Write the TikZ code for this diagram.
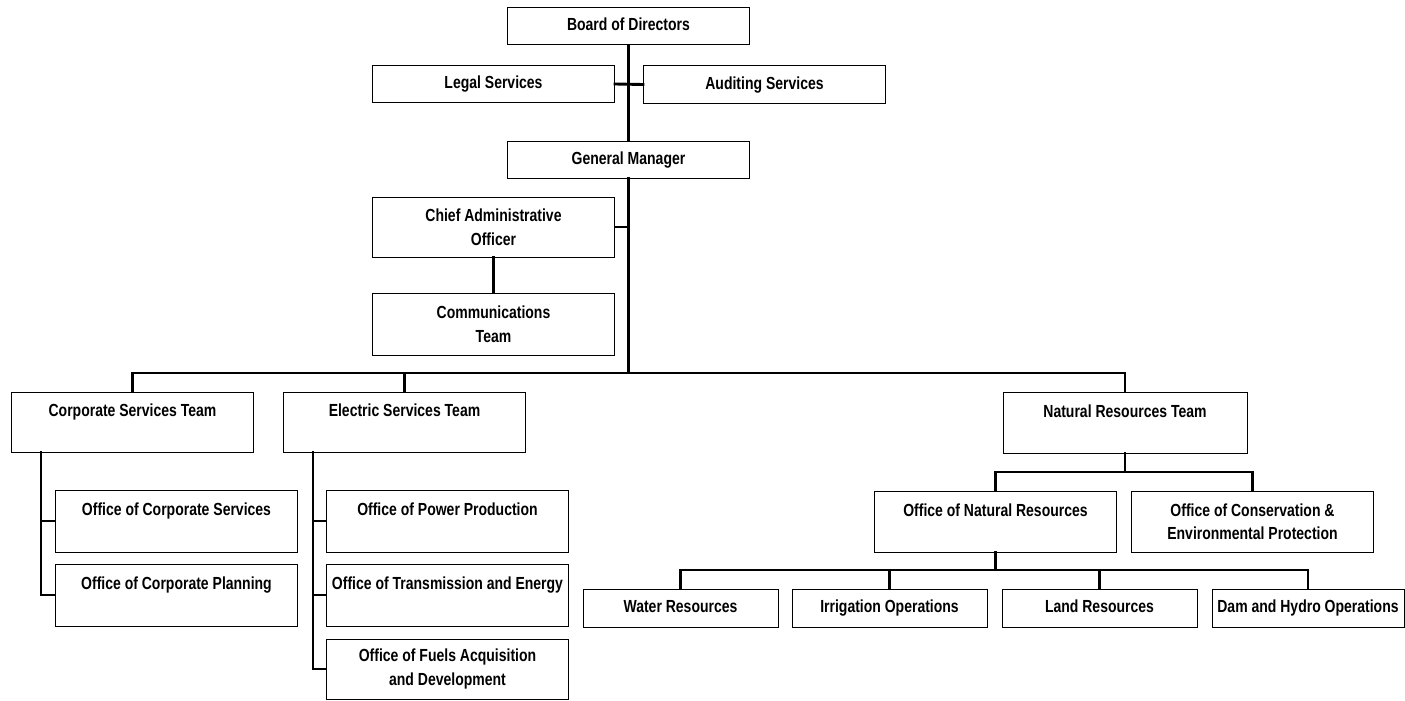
\documentclass[tikz,border=0pt]{standalone}
\usepackage{fontspec}
\newfontfamily\lblfont[FakeStretch=0.8]{Liberation Sans}
\tikzset{
  orgbox/.style={draw=black, line width=1pt, inner sep=0pt, align=center,
    font=\lblfont\bfseries\fontsize{17.5}{23.5}\selectfont, fill=white},
  wide/.style={orgbox, minimum width=242pt},
  short/.style={wide, minimum height=37pt, text height=12.5pt, text depth=3.5pt},
  tall/.style={wide, minimum height=61pt},
  small/.style={orgbox, minimum width=195pt, minimum height=38pt, text height=12.5pt, text depth=3.5pt},
  link/.style={draw=black, line width=2.9pt, line cap=rect}
}
\begin{document}
\begin{tikzpicture}[x=1pt, y=-1pt]
\useasboundingbox[fill=white] (0,0) rectangle (1405,701);

% top
\node[short] (board) at (628.5,26.5) {Board of Directors};
\node[short] (legal) at (493.5,84) {Legal Services};
\node[short] (audit) at (764.5,84.5) {Auditing Services};
\node[short] (gm) at (628.5,159.5) {General Manager};
\node[tall, minimum height=60pt] (cao) at (493.5,227) {Chief Administrative\\Officer};
\node[tall, minimum height=62pt] (comm) at (493.5,324) {Communications\\Team};

% teams
\node[tall, minimum height=60pt] (cst) at (132.5,422) {Corporate Services Team\\\mbox{}};
\node[tall, minimum height=60pt] (est) at (404.5,422) {Electric Services Team\\\mbox{}};
\node[tall, minimum height=61pt, minimum width=244pt] (nrt) at (1125,422.5) {Natural Resources Team\\\mbox{}};

% corporate offices
\node[tall, minimum height=62pt] (ocs) at (176.5,521) {Office of Corporate Services\\\mbox{}};
\node[tall, minimum height=62pt] (ocp) at (176.5,595) {Office of Corporate Planning\\\mbox{}};

% electric offices
\node[tall, minimum height=62pt] (opp) at (447.5,521) {Office of Power Production\\\mbox{}};
\node[tall, minimum height=62pt] (ote) at (447.5,595) {Office of Transmission and Energy\\\mbox{}};
\node[tall, minimum height=60pt] (ofa) at (447.5,669) {Office of Fuels Acquisition\\and Development};

% natural resources offices
\node[tall] (onr) at (995.5,521.5) {Office of Natural Resources\\\mbox{}};
\node[tall] (oce) at (1252.5,521.5) {Office of Conservation \&\\Environmental Protection};

% units
\node[small] (water) at (680.5,608) {Water Resources};
\node[small] (irr) at (889.5,608) {Irrigation Operations};
\node[small] (land) at (1099.5,608) {Land Resources};
\node[small, minimum width=192pt] (dam) at (1308,608) {Dam and Hydro Operations};

% helper coordinates
\coordinate (barY) at (0,373);
\coordinate (spineA) at (41,0);
\coordinate (spineB) at (313,0);
\coordinate (nrY) at (0,472);
\coordinate (unitY) at (0,570);

% connectors
\draw[link] (board.south) -- (gm.north);
\draw[link] (legal.east) -- (audit.west);
\draw[link] (gm.south) -- (gm.south |- barY);
\draw[link] (cao.east) -- (cao.east -| gm.south);
\draw[link] (cao.south) -- (comm.north);
\draw[link] (cst.north) -- (cst.north |- barY) -| (nrt.north);
\draw[link] (est.north) -- (est.north |- barY);

\draw[link] (cst.south -| spineA) |- (ocp.west);
\draw[link] (ocs.west -| spineA) -- (ocs.west);

\draw[link] (est.south -| spineB) |- (ofa.west);
\draw[link] (opp.west -| spineB) -- (opp.west);
\draw[link] (ote.west -| spineB) -- (ote.west);

\draw[link] (nrt.south) -- (nrt.south |- nrY);
\draw[link] (onr.north) -- (onr.north |- nrY) -| (oce.north);

\draw[link] (onr.south) -- (onr.south |- unitY);
\draw[link] (water.north) -- (water.north |- unitY) -| (dam.north);
\draw[link] (irr.north) -- (irr.north |- unitY);
\draw[link] (land.north) -- (land.north |- unitY);
\end{tikzpicture}
\end{document}
